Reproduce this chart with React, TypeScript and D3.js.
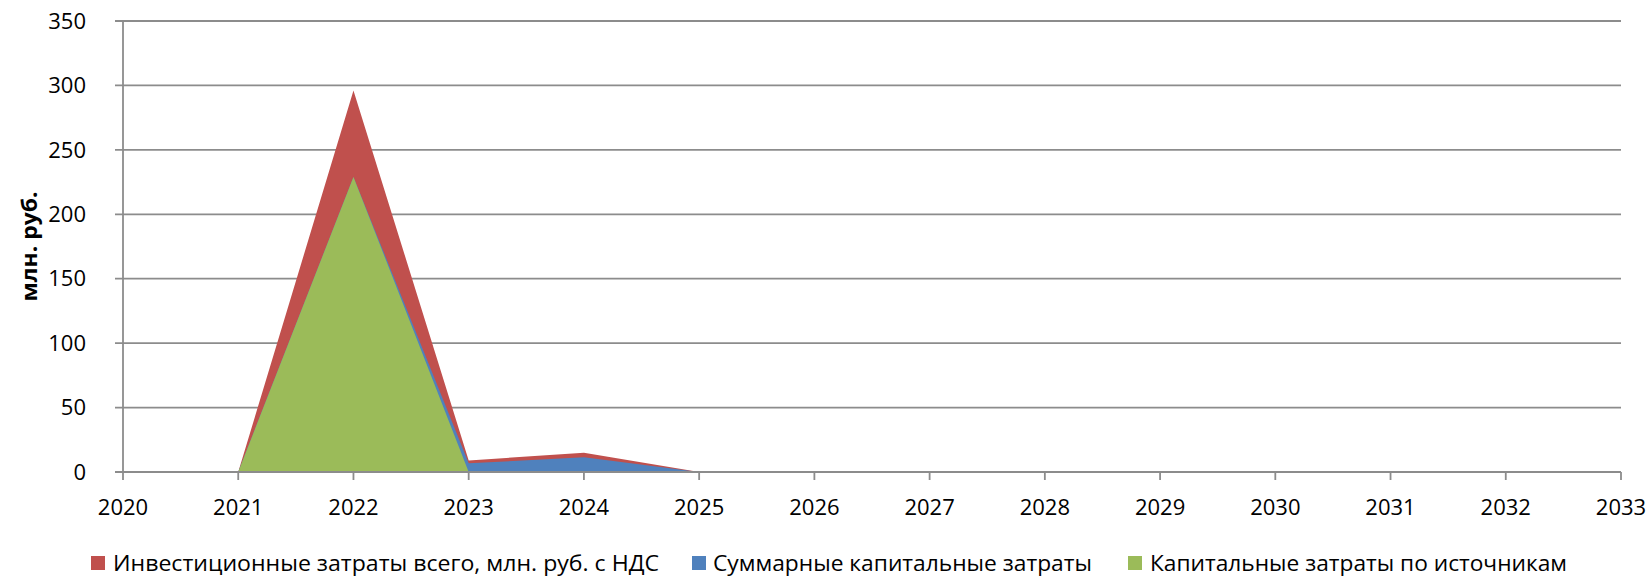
import React from 'react';
import * as d3 from 'd3';

const years = [2020, 2021, 2022, 2023, 2024, 2025, 2026, 2027, 2028, 2029, 2030, 2031, 2032, 2033];
const investTotal = [0, 0, 296, 9, 15, 0, 0, 0, 0, 0, 0, 0, 0, 0];
const capitalSum = [0, 0, 229, 6.7, 11.4, 0, 0, 0, 0, 0, 0, 0, 0, 0];
const capitalBySource = [0, 0, 229, 0, 0, 0, 0, 0, 0, 0, 0, 0, 0, 0];
const yTicks = [0, 50, 100, 150, 200, 250, 300, 350];

const seriesNames = [
  'Инвестиционные затраты всего, млн. руб. с НДС',
  'Суммарные капитальные затраты',
  'Капитальные затраты по источникам',
];
const colors = ['#C0504D', '#4F81BD', '#9BBB59'];

const width = 1652;
const height = 577;
const marginLeft = 123;
const marginRight = 31;
const marginTop = 21;
const plotBottom = 472;

const font = "'Open Sans', 'Noto Sans', sans-serif";
const gridColor = '#8c8c8c';

const App: React.FC = () => {
  const x = d3.scaleLinear()
    .domain([years[0], years[years.length - 1]])
    .range([marginLeft, width - marginRight]);
  const y = d3.scaleLinear()
    .domain([0, 350])
    .range([plotBottom, marginTop]);

  const area = d3.area<number>()
    .x((_, i) => x(years[i]))
    .y0(y(0))
    .y1(d => y(d));

  const allSeries = [investTotal, capitalSum, capitalBySource];

  // legend layout (square x, text x, text width)
  const legend = [
    { sq: 91, tx: 113, w: 546 },
    { sq: 692, tx: 713, w: 379 },
    { sq: 1128, tx: 1150, w: 417 },
  ];

  return (
    <svg width={width} height={height} style={{ position: 'absolute', left: 0, top: 0, background: '#fff' }}>
      {/* gridlines */}
      {yTicks.map(t => (
        <g key={t}>
          <line x1={marginLeft - 8} x2={width - marginRight} y1={y(t)} y2={y(t)} stroke={gridColor} strokeWidth={1.8} />
          <text x={86} y={y(t)} dy="0.35em" textAnchor="end" fontFamily={font} fontSize={22} fill="#000">{t}</text>
        </g>
      ))}

      {/* areas */}
      {allSeries.map((s, i) => (
        <path key={i} d={area(s) || ''} fill={colors[i]} />
      ))}

      {/* y axis line */}
      <line x1={marginLeft} x2={marginLeft} y1={y(350)} y2={plotBottom} stroke={gridColor} strokeWidth={1.8} />
      {/* x axis */}
      <line x1={marginLeft} x2={width - marginRight} y1={plotBottom} y2={plotBottom} stroke={gridColor} strokeWidth={1.8} />
      {years.map(yr => (
        <g key={yr}>
          <line x1={x(yr)} x2={x(yr)} y1={plotBottom} y2={plotBottom + 8} stroke={gridColor} strokeWidth={1.8} />
          <text x={x(yr)} y={507} dy="0.35em" textAnchor="middle" fontFamily={font} fontSize={22} fill="#000">{yr}</text>
        </g>
      ))}

      {/* y axis title */}
      <text
        transform={`translate(29,${(y(350) + plotBottom) / 2}) rotate(-90)`}
        textAnchor="middle"
        dy="0.35em"
        fontFamily={font}
        fontSize={22}
        fontWeight="bold"
        fill="#000"
        textLength={110}
        lengthAdjust="spacingAndGlyphs"
      >
        млн. руб.
      </text>

      {/* legend */}
      {legend.map((l, i) => (
        <g key={i}>
          <rect x={l.sq} y={556} width={14} height={14} fill={colors[i]} />
          <text x={l.tx} y={570.5} fontFamily={font} fontSize={22} fill="#000" textLength={l.w} lengthAdjust="spacingAndGlyphs">
            {seriesNames[i]}
          </text>
        </g>
      ))}
    </svg>
  );
};

export default App;
